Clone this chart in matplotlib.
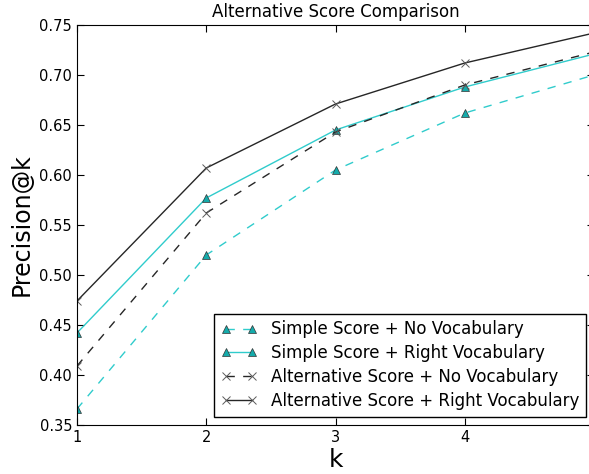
import matplotlib
matplotlib.use("Agg")
import matplotlib.pyplot as plt

k = [1, 2, 3, 4, 5]
simple_no_vocab = [0.366, 0.520, 0.605, 0.662, 0.700]
simple_right_vocab = [0.442, 0.577, 0.645, 0.688, 0.721]
alt_no_vocab = [0.409, 0.562, 0.643, 0.690, 0.723]
alt_right_vocab = [0.474, 0.607, 0.671, 0.712, 0.742]

cyan = '#30cccc'
teal = '#14abab'

fig = plt.figure(figsize=(5.89, 4.74), dpi=100)
ax = fig.add_axes([0.1307, 0.1034, 0.878, 0.8439])

ax.plot(k, simple_no_vocab, '--^', color=cyan, markerfacecolor=teal,
        markeredgecolor='0.2', markeredgewidth=0.5, markersize=5.5, lw=1,
        dashes=(6, 6), label='Simple Score + No Vocabulary')
ax.plot(k, simple_right_vocab, '-^', color=cyan, markerfacecolor=teal,
        markeredgecolor='0.2', markeredgewidth=0.5, markersize=5.5, lw=1,
        label='Simple Score + Right Vocabulary')
ax.plot(k, alt_no_vocab, '--x', color='0.15', markeredgecolor='0.35',
        markersize=6, markeredgewidth=0.7, lw=1, dashes=(6, 6),
        label='Alternative Score + No Vocabulary')
ax.plot(k, alt_right_vocab, '-x', color='0.15', markeredgecolor='0.35',
        markersize=6, markeredgewidth=0.7, lw=1,
        label='Alternative Score + Right Vocabulary')

ax.set_xlim(1, 5)
ax.set_ylim(0.35, 0.75)
ax.set_xticks([1, 2, 3, 4])
ax.set_yticks([0.35, 0.40, 0.45, 0.50, 0.55, 0.60, 0.65, 0.70, 0.75])
ax.tick_params(direction='in', top=True, right=True, labelsize=10.5, length=5)
ax.set_title('Alternative Score Comparison', fontsize=12)
ax.set_xlabel('k', fontsize=18, labelpad=2)
ax.set_ylabel('Precision@k', fontsize=17)

leg = ax.legend(loc='lower right', fontsize=12, numpoints=2, fancybox=False,
                framealpha=1, borderaxespad=0.5, handlelength=2.2,
                labelspacing=0.35)
leg.get_frame().set_edgecolor('k')

fig.savefig('out.png', dpi=100)
